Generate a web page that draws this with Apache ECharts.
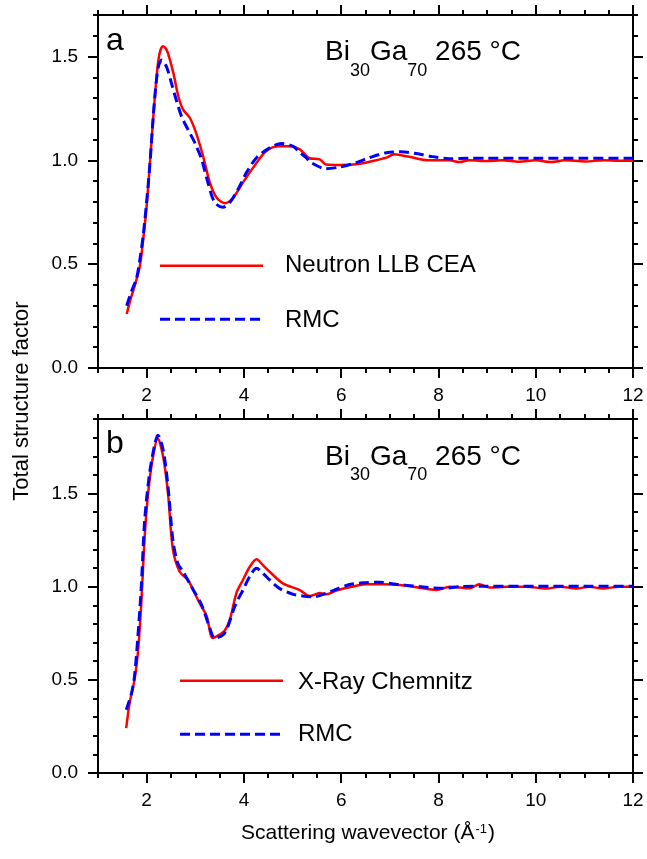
<!DOCTYPE html>
<html><head><meta charset="utf-8">
<script src="https://cdn.jsdelivr.net/npm/echarts@6/dist/echarts.min.js"></script>
<style>html,body{margin:0;padding:0;background:#fff}#c{width:647px;height:859px}</style>
</head><body><div id="c"></div>
<script>
const FONT = '"Liberation Sans", Arial, Helvetica, sans-serif';
const X_MIN = 1, X_MAX = 12;
const X_MAJOR = [2, 4, 6, 8, 10, 12];
const Y_MAJOR = [0, 0.5, 1.0, 1.5];
const Y_MAX_A = 1.7, Y_MAX_B = 1.9;

// Panel a : neutron (LLB CEA) vs RMC
const qNeutron = [1.59,1.68,1.76,1.86,1.93,2.00,2.05,2.10,2.17,2.24,2.29,2.34,2.39,2.44,2.55,2.65,2.75,2.89,3.02,3.16,3.30,3.44,3.61,3.78,3.98,4.19,4.46,4.73,4.94,5.15,5.35,5.56,5.69,5.97,6.31,6.65,6.93,7.09,7.40,7.81,8.22,8.43,8.63,9.00,9.30,9.66,10.00,10.31,10.60,11.03,11.40,11.70,12.00];
const sNeutron = [0.26,0.34,0.40,0.49,0.62,0.78,0.93,1.09,1.31,1.48,1.535,1.55,1.54,1.515,1.42,1.31,1.244,1.204,1.13,1.02,0.893,0.82,0.794,0.82,0.893,0.965,1.045,1.068,1.068,1.053,1.01,1.005,0.98,0.978,0.981,0.997,1.013,1.029,1.017,1.0,1.0,0.992,1.0,0.997,1.0,0.993,1.0,0.992,1.0,0.995,1.0,0.998,0.998];
const qRmcA = [1.59,1.69,1.79,1.86,1.93,2.00,2.07,2.12,2.17,2.24,2.31,2.41,2.51,2.61,2.72,2.85,2.99,3.13,3.26,3.40,3.57,3.71,3.88,4.05,4.26,4.53,4.77,5.01,5.15,5.28,5.38,5.69,5.97,6.31,6.58,6.93,7.23,7.54,7.88,8.22,8.60,9.00,10.00,11.00,12.00];
const sRmcA = [0.30,0.37,0.43,0.52,0.64,0.80,0.99,1.16,1.31,1.45,1.483,1.45,1.372,1.29,1.21,1.148,1.085,1.005,0.893,0.797,0.774,0.797,0.861,0.94,1.013,1.06,1.081,1.068,1.037,1.013,0.989,0.96,0.968,0.989,1.013,1.037,1.041,1.033,1.018,1.008,1.01,1.01,1.01,1.01,1.01];

// Panel b : X-ray (Chemnitz) vs RMC
const qXray = [1.58,1.65,1.75,1.82,1.89,1.96,2.03,2.13,2.23,2.34,2.44,2.54,2.68,2.85,3.09,3.23,3.36,3.48,3.60,3.71,3.85,3.98,4.12,4.26,4.39,4.53,4.80,5.15,5.35,5.56,5.70,5.90,6.17,6.52,6.86,7.20,7.55,7.96,8.23,8.64,8.84,9.05,9.40,9.80,10.22,10.50,10.84,11.10,11.38,11.70,12.00];
const sXray = [0.241,0.375,0.50,0.643,0.911,1.268,1.50,1.697,1.795,1.697,1.50,1.20,1.08,1.036,0.911,0.845,0.725,0.74,0.762,0.822,0.97,1.036,1.107,1.147,1.116,1.08,1.018,0.982,0.950,0.966,0.959,0.979,0.997,1.013,1.013,1.009,0.997,0.982,1.0,0.991,1.013,0.995,1.0,1.0,0.99,1.0,0.99,1.0,0.99,1.0,1.0];
const qRmcB = [1.58,1.69,1.75,1.82,1.89,1.96,2.06,2.17,2.23,2.34,2.44,2.54,2.64,2.75,2.92,3.13,3.30,3.40,3.57,3.67,3.81,3.98,4.12,4.26,4.39,4.53,4.73,5.00,5.21,5.42,5.83,6.14,6.45,6.79,7.13,7.48,7.75,8.09,8.44,9.00,10.00,11.00,12.00];
const sRmcB = [0.339,0.429,0.518,0.732,1.0,1.357,1.608,1.768,1.813,1.733,1.536,1.25,1.125,1.08,1.0,0.902,0.777,0.723,0.741,0.786,0.893,0.982,1.054,1.099,1.072,1.036,0.991,0.96,0.95,0.946,0.979,1.009,1.021,1.024,1.013,1.004,0.997,0.991,1.0,1.002,1.002,1.002,1.002];

const pair = (q, s) => q.map((x, i) => [x, s[i]]);

const BLACK = '#000';
const lineSt = {color: BLACK, width: 2};
const tickSt = {color: BLACK, width: 2};
const lblSt = {color: BLACK, fontSize: 19, fontFamily: FONT};

const gridA = {left: 98, top: 15, width: 535, height: 353};
const gridB = {left: 98, top: 419, width: 535, height: 354};

function xAxesFor(mainGi, overGi) {
  const base = {type: 'value', min: X_MIN, max: X_MAX, splitLine: {show: false}};
  return [
    Object.assign({}, base, {gridIndex: mainGi, position: 'bottom', interval: 0.5,
      axisLine: {onZero: false, lineStyle: lineSt}, axisTick: {length: 5, lineStyle: tickSt}, axisLabel: {show: false}}),
    Object.assign({}, base, {gridIndex: mainGi, position: 'top', interval: 0.5,
      axisLine: {onZero: false, lineStyle: lineSt}, axisTick: {length: 5, lineStyle: tickSt}, axisLabel: {show: false}}),
    Object.assign({}, base, {gridIndex: overGi, position: 'bottom',
      axisLine: {show: false, onZero: false}, axisTick: {customValues: X_MAJOR, length: 10, lineStyle: tickSt},
      axisLabel: Object.assign({customValues: X_MAJOR, margin: 18}, lblSt)}),
    Object.assign({}, base, {gridIndex: overGi, position: 'top',
      axisLine: {show: false, onZero: false}, axisTick: {customValues: X_MAJOR, length: 10, lineStyle: tickSt}, axisLabel: {show: false}})
  ];
}
function yAxesFor(mainGi, overGi, ymax) {
  const base = {type: 'value', min: 0, max: ymax, splitLine: {show: false}};
  return [
    Object.assign({}, base, {gridIndex: mainGi, position: 'left', interval: 0.1,
      axisLine: {onZero: false, lineStyle: lineSt}, axisTick: {length: 5, lineStyle: tickSt}, axisLabel: {show: false}}),
    Object.assign({}, base, {gridIndex: mainGi, position: 'right', interval: 0.1,
      axisLine: {onZero: false, lineStyle: lineSt}, axisTick: {length: 5, lineStyle: tickSt}, axisLabel: {show: false}}),
    Object.assign({}, base, {gridIndex: overGi, position: 'left',
      axisLine: {show: false, onZero: false}, axisTick: {customValues: Y_MAJOR, length: 10, lineStyle: tickSt},
      axisLabel: Object.assign({customValues: Y_MAJOR, margin: 20, formatter: v => v.toFixed(1)}, lblSt)}),
    Object.assign({}, base, {gridIndex: overGi, position: 'right',
      axisLine: {show: false, onZero: false}, axisTick: {customValues: Y_MAJOR, length: 10, lineStyle: tickSt}, axisLabel: {show: false}})
  ];
}

const redLine = {color: '#ff0000', width: 2.5, type: 'solid'};
const blueLine = {color: '#0000ff', width: 3, type: [10, 5]};

function mkText(x, y, text, size, extra) {
  return Object.assign({type: 'text', x: x, y: y, z: 10,
    style: {text: text, fontSize: size, fontFamily: FONT, fill: BLACK,
      align: 'left', textAlign: 'left', verticalAlign: 'middle', textVerticalAlign: 'middle'}}, extra || {});
}
function mkFormula(x, yTop) {
  return {type: 'text', x: x, y: yTop, z: 10, style: {
    text: '{b|Bi}{s|30}{b|Ga}{s|70}{b| 265 °C}',
    fontFamily: FONT, fill: BLACK, align: 'left', textAlign: 'left', verticalAlign: 'top', textVerticalAlign: 'top',
    rich: {
      b: {fontSize: 28, lineHeight: 40, fontFamily: FONT, fill: BLACK, verticalAlign: 'top'},
      s: {fontSize: 18, lineHeight: 18, fontFamily: FONT, fill: BLACK, verticalAlign: 'top', padding: [23, 0, 0, 0]}
    }}};
}
function mkLegLine(x1, x2, y, st) {
  return {type: 'line', z: 10, shape: {x1: x1, y1: y, x2: x2, y2: y},
    style: {stroke: st.color, lineWidth: st.width, lineDash: st.type === 'solid' ? null : st.type}};
}

const option = {
  animation: false,
  backgroundColor: '#fff',
  grid: [gridA, gridA, gridB, gridB],
  xAxis: [].concat(xAxesFor(0, 1), xAxesFor(2, 3)),
  yAxis: [].concat(yAxesFor(0, 1, Y_MAX_A), yAxesFor(2, 3, Y_MAX_B)),
  series: [
    {name: 'Neutron LLB CEA', type: 'line', xAxisIndex: 0, yAxisIndex: 0, data: pair(qNeutron, sNeutron),
      symbol: 'none', smooth: 0.3, lineStyle: redLine, z: 2},
    {name: 'RMC', type: 'line', xAxisIndex: 0, yAxisIndex: 0, data: pair(qRmcA, sRmcA),
      symbol: 'none', smooth: 0.3, lineStyle: blueLine, z: 3},
    {name: 'X-Ray Chemnitz', type: 'line', xAxisIndex: 4, yAxisIndex: 4, data: pair(qXray, sXray),
      symbol: 'none', smooth: 0.3, lineStyle: redLine, z: 2},
    {name: 'RMC ', type: 'line', xAxisIndex: 4, yAxisIndex: 4, data: pair(qRmcB, sRmcB),
      symbol: 'none', smooth: 0.3, lineStyle: blueLine, z: 3}
  ],
  graphic: [
    mkText(106, 41, 'a', 32),
    mkText(106, 444, 'b', 32),
    mkFormula(325, 38.6),
    mkFormula(325, 443.3),
    mkLegLine(160, 263, 265.7, redLine),
    mkLegLine(160, 263, 319.3, blueLine),
    mkText(285, 265.5, 'Neutron LLB CEA', 24),
    mkText(285, 320, 'RMC', 24),
    mkLegLine(180, 283, 680.7, redLine),
    mkLegLine(180, 283, 734.3, blueLine),
    mkText(298, 682, 'X-Ray Chemnitz', 24),
    mkText(298, 734.5, 'RMC', 24),
    {type: 'text', x: 22, y: 401, rotation: Math.PI / 2, z: 10,
      style: {text: 'Total structure factor', fontSize: 22, fontFamily: FONT, fill: BLACK,
        align: 'center', textAlign: 'center', verticalAlign: 'middle', textVerticalAlign: 'middle'}},
    {type: 'text', x: 368, y: 836, z: 10,
      style: {text: '{n|Scattering wavevector (Å}{s|-1}{n|)}', fontFamily: FONT, fill: BLACK,
        align: 'center', textAlign: 'center', verticalAlign: 'middle', textVerticalAlign: 'middle',
        rich: {
          n: {fontSize: 21, lineHeight: 26, fontFamily: FONT, fill: BLACK, verticalAlign: 'top'},
          s: {fontSize: 13, lineHeight: 13, fontFamily: FONT, fill: BLACK, verticalAlign: 'top', padding: [0, 1, 0, 1]}
        }}}
  ]
};

const chart = echarts.init(document.getElementById('c'), null, {renderer: 'canvas'});
chart.setOption(option);
</script></body></html>
